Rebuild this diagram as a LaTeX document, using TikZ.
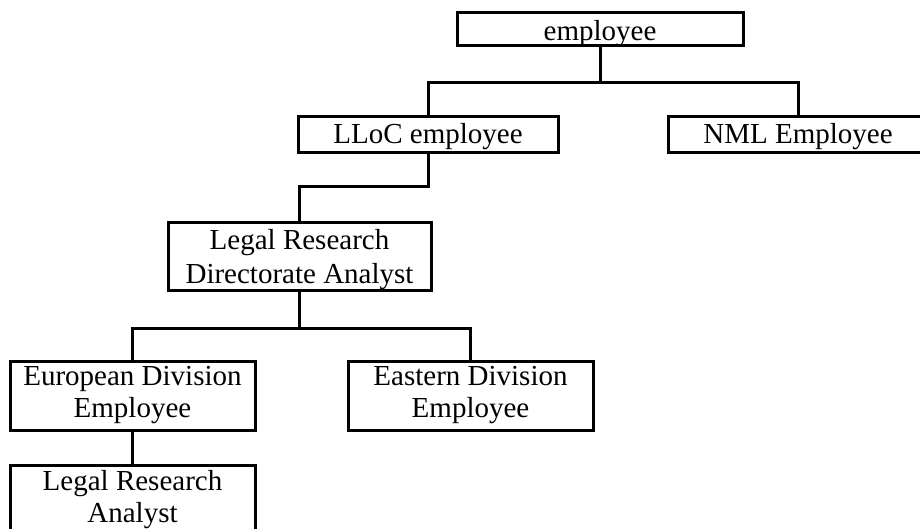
\documentclass[tikz,border=0pt]{standalone}
\usepackage{fontspec}
\setmainfont{Liberation Serif}
\begin{document}
\begin{tikzpicture}[x=1pt,y=-1pt,
  box/.style={draw=black,line width=3pt,inner sep=0pt,align=center,
    font=\fontsize{29}{32}\selectfont},
  conn/.style={draw=black,line width=3pt,line cap=rect,line join=miter}]
\useasboundingbox (0,0) rectangle (920,529);
\clip (0,0) rectangle (920,529);
\node[box,minimum width=286pt,minimum height=33pt,text height=23pt,text depth=0pt] (emp) at (600,29.5) {employee};
\node[box,minimum width=260pt,minimum height=36pt,text height=20pt,text depth=2pt] (lloc) at (428,135) {LLoC employee};
\node[box,minimum width=260pt,minimum height=36pt,text height=20pt,text depth=2pt] (nml) at (798,135) {NML Employee};
\node[box,minimum width=263pt,minimum height=67pt,font=\fontsize{29}{33}\selectfont,text height=55pt,text depth=2pt] (lrda) at (299.5,256.5) {Legal Research\\Directorate Analyst};
\node[box,minimum width=245pt,minimum height=69pt] (eur) at (132.5,395.5) {European Division\\Employee};
\node[box,minimum width=245pt,minimum height=69pt] (eas) at (470.5,395.5) {Eastern Division\\Employee};
\node[box,minimum width=245pt,minimum height=69pt] (lra) at (132.5,499.5) {Legal Research\\Analyst};
\coordinate (j1) at (600,83);
\coordinate (j2) at (299.5,187);
\coordinate (j3) at (299.5,328);
\draw[conn] (emp.south) -- (j1);
\draw[conn] (lloc.north) |- (j1) -| (nml.north);
\draw[conn] (lloc.south) |- (j2) -- (lrda.north);
\draw[conn] (lrda.south) -- (j3);
\draw[conn] (eur.north) |- (j3) -| (eas.north);
\draw[conn] (eur.south) -- (lra.north);
\end{tikzpicture}
\end{document}
